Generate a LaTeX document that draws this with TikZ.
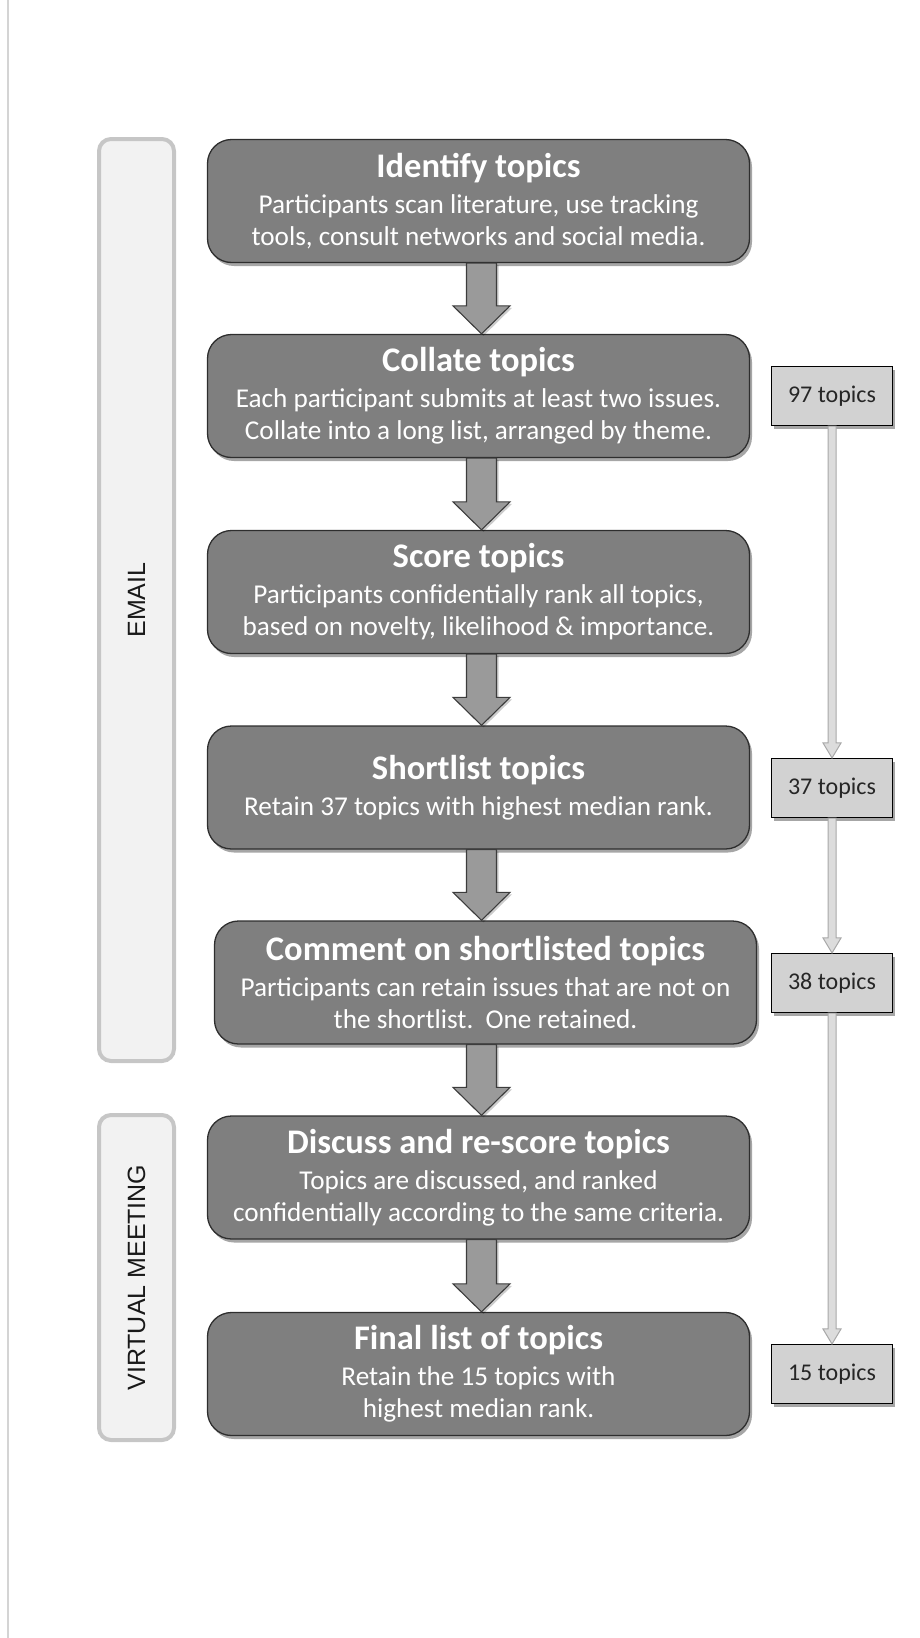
\documentclass[tikz,border=0pt]{standalone}
\usepackage{fontspec}
\setmainfont{Carlito}
\newfontfamily\labelfont{Liberation Sans}
\usetikzlibrary{calc,shadows}
\definecolor{boxfill}{HTML}{7F7F7F}
\definecolor{boxline}{HTML}{2E2E2E}
\definecolor{arrfill}{HTML}{9A9A9A}
\definecolor{arrline}{HTML}{3C3C3C}
\definecolor{sidefill}{HTML}{D2D2D2}
\definecolor{sarrfill}{HTML}{DCDCDC}
\definecolor{sarrline}{HTML}{A8A8A8}
\definecolor{brfill}{HTML}{F2F2F2}
\definecolor{brline}{HTML}{C6C6C6}
\definecolor{edgeline}{HTML}{D4D4D4}
\newcommand\ttl[1]{{\fontsize{34.5}{32}\selectfont\bfseries #1}\\[4pt]}
\newcommand\blockarr[2]{\draw[blockarrow] let \p1=(#1.south), \p2=(#2.north) in
  (466.5pt,\y1) -- (496.5pt,\y1) -- (496.5pt,\y2+28pt) -- (510pt,\y2+28pt)
  -- (481.5pt,\y2) -- (453pt,\y2+28pt) -- (466.5pt,\y2+28pt) -- cycle;}
\newcommand\sidearr[2]{\draw[sidearrow] let \p1=(#1.south), \p2=(#2.north) in
  (828pt,\y1) -- (836pt,\y1) -- (836pt,\y2+15pt) -- (841pt,\y2+15pt)
  -- (832pt,\y2) -- (823pt,\y2+15pt) -- (828pt,\y2+15pt) -- cycle;}
\begin{document}
\begin{tikzpicture}[x=1pt,y=-1pt,
  mainbox/.style={draw=boxline, line width=1.3pt, fill=boxfill, rounded corners=24pt,
    minimum width=542pt, minimum height=123pt, inner sep=0pt, text=white, align=center,
    font=\fontsize{27.2}{32}\selectfont,
    drop shadow={shadow xshift=2.5pt, shadow yshift=-3.5pt, opacity=0.35, fill=black}},
  sidebox/.style={draw=black, line width=1.1pt, fill=sidefill, minimum width=121pt,
    minimum height=59pt, inner sep=0pt, text=black!85, font=\fontsize{24}{28}\selectfont,
    drop shadow={shadow xshift=2.5pt, shadow yshift=-3.5pt, opacity=0.35, fill=black}},
  blockarrow/.style={draw=arrline, line width=1.1pt, fill=arrfill,
    drop shadow={shadow xshift=2pt, shadow yshift=-2pt, opacity=0.2, fill=black}},
  sidearrow/.style={draw=sarrline, line width=1pt, fill=sarrfill},
  bracket/.style={draw=brline, line width=4pt, fill=brfill, rounded corners=12pt,
    minimum width=75pt, inner sep=0pt},
  brlabel/.style={rotate=90, font=\labelfont\fontsize{25}{30}\selectfont, text=black!90}
]
\useasboundingbox (0,0) rectangle (919,1638);
\draw[edgeline, line width=1.5pt] (8,0) -- (8,1638);

% left brackets
\node[bracket, minimum height=922pt] (email) at (136.5,600) {};
\node[brlabel] (emailt) at (email.center) {EMAIL};
\node[bracket, minimum height=325pt] (vm) at (136.5,1277.5) {};
\node[brlabel] (vmt) at (vm.center) {VIRTUAL MEETING};

% main boxes
\node[mainbox] (b1) at (478.5,201) {\ttl{Identify topics}Participants scan literature, use tracking\\tools, consult networks and social media.};
\node[mainbox] (b2) at (478.5,396) {\ttl{Collate topics}Each participant submits at least two issues.\\Collate into a long list, arranged by theme.};
\node[mainbox] (b3) at (478.5,592) {\ttl{Score topics}Participants confidentially rank all topics,\\based on novelty, likelihood \& importance.};
\node[mainbox] (b4) at (478.5,787.5) {\ttl{Shortlist topics}Retain 37 topics with highest median rank.};
\node[mainbox] (b5) at (485.5,982.5) {\ttl{Comment on shortlisted topics}Participants can retain issues that are not on\\the shortlist.\ \ One retained.};
\node[mainbox] (b6) at (478.5,1177.5) {\ttl{Discuss and re-score topics}Topics are discussed, and ranked\\confidentially according to the same criteria.};
\node[mainbox] (b7) at (478.5,1374) {\ttl{Final list of topics}Retain the 15 topics with\\highest median rank.};

\blockarr{b1}{b2}
\blockarr{b2}{b3}
\blockarr{b3}{b4}
\blockarr{b4}{b5}
\blockarr{b5}{b6}
\blockarr{b6}{b7}

% side boxes
\node[sidebox] (s97) at (832,396) {97 topics};
\node[sidebox] (s37) at (832,788) {37 topics};
\node[sidebox] (s38) at (832,983) {38 topics};
\node[sidebox] (s15) at (832,1374) {15 topics};

\sidearr{s97}{s37}
\sidearr{s37}{s38}
\sidearr{s38}{s15}
\end{tikzpicture}
\end{document}
